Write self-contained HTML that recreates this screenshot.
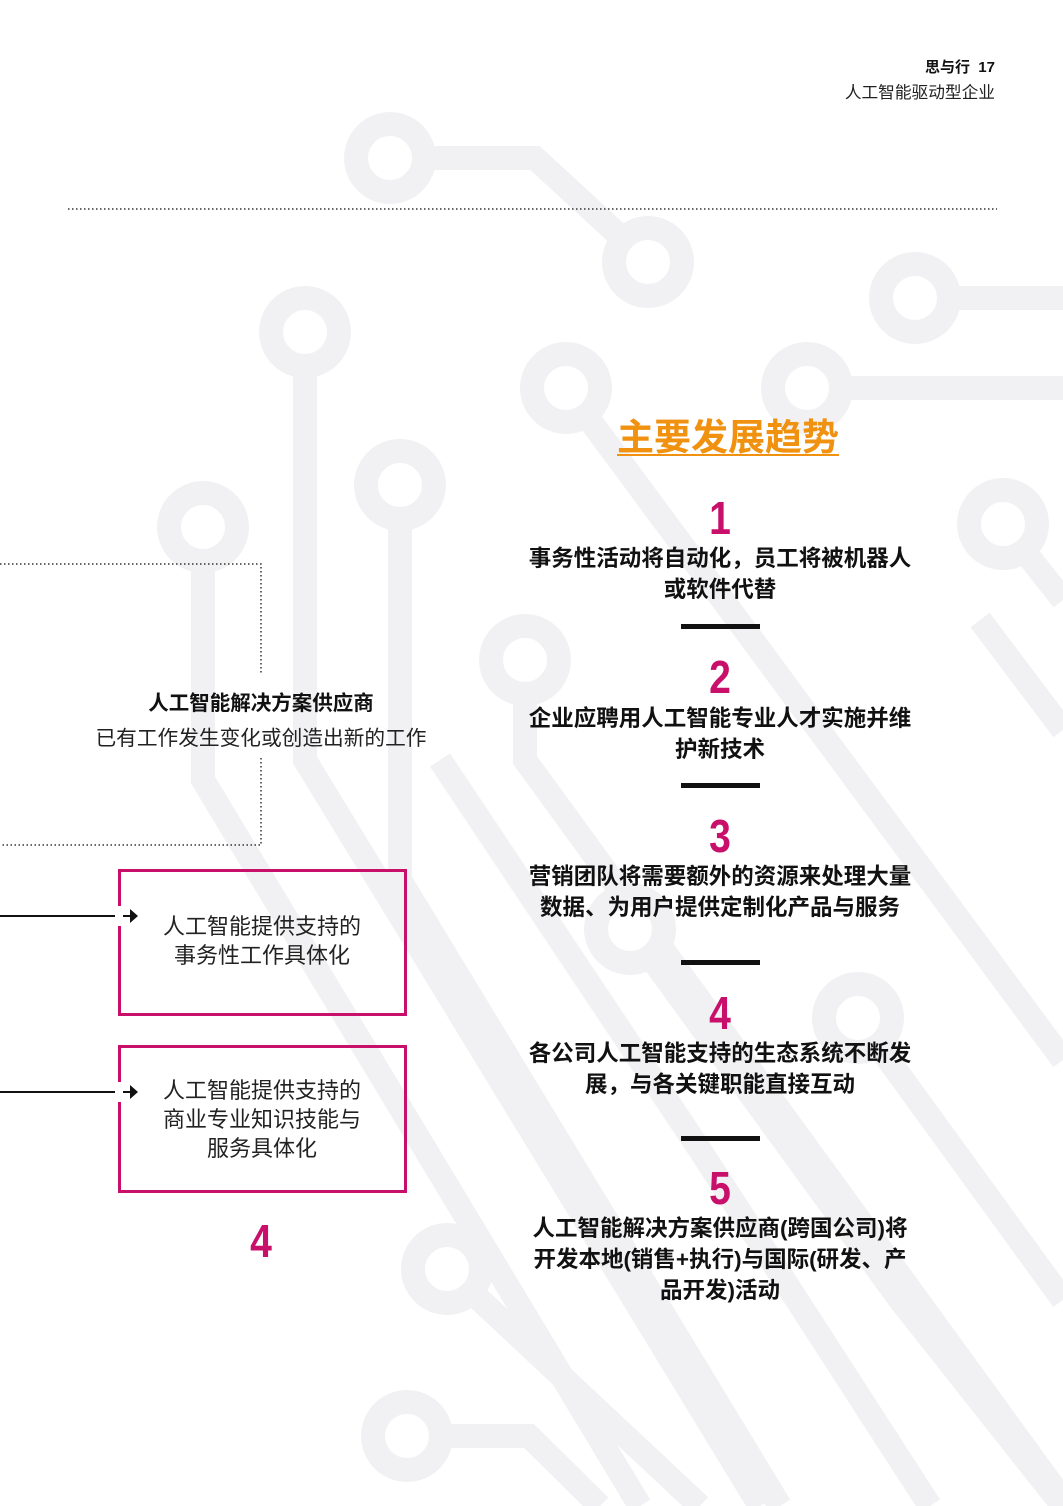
<!DOCTYPE html>
<html><head><meta charset="utf-8"><style>
body{margin:0;width:1063px;height:1506px;position:relative;background:#fff;overflow:hidden;font-family:"Liberation Sans","Noto Sans CJK SC",sans-serif;color:#111}
.a{position:absolute;white-space:nowrap}
.c{transform:translateX(-50%);text-align:center}
.num{color:#c8106b;font-weight:bold;font-size:46px;line-height:46px;transform:translateX(-50%) scaleX(0.85)}
.t{font-weight:bold;font-size:22.5px;line-height:31px}
.bar{position:absolute;left:681px;width:79px;height:5px;background:#111}
.box{position:absolute;border:3px solid #c8106b;box-sizing:border-box;background:transparent}
.bt{font-size:22px;line-height:29px;color:#222}
</style></head><body>
<svg class="a" style="left:0;top:0" width="1063" height="1506">
<g fill="none" stroke="#f1f1f3" stroke-width="24">
<path d="M390 158 H535 L648 262"/>
<path d="M915 298 H1063"/>
<path d="M807 388 H1063"/>
<path d="M305 332 V760 L760 1506"/>
<path d="M203 527 V780 L640 1506"/>
<path d="M400 485 V880 L780 1506"/>
<path d="M566 388 L1063 1060"/>
<path d="M525 660 V760 L1063 1500"/>
<path d="M1003 524 L1063 600"/>
<path d="M858 1018 L1063 1300"/>
<path d="M630 929 L900 1300 L1063 1506"/>
<path d="M447 1269 L700 1506"/>
<path d="M407 1436 H529 L600 1506"/>
<path d="M980 620 L1063 730"/>
<path d="M440 760 L700 1150 L930 1506"/>
</g>
<g fill="#fff" stroke="#f1f1f3" stroke-width="24">
<circle cx="390" cy="158" r="34"/><circle cx="648" cy="262" r="34"/><circle cx="915" cy="298" r="34"/>
<circle cx="305" cy="332" r="34"/><circle cx="566" cy="388" r="34"/><circle cx="807" cy="388" r="34"/>
<circle cx="400" cy="485" r="34"/><circle cx="203" cy="527" r="34"/><circle cx="1003" cy="524" r="34"/>
<circle cx="525" cy="660" r="34"/><circle cx="630" cy="929" r="34"/><circle cx="858" cy="1018" r="34"/>
<circle cx="447" cy="1269" r="34"/><circle cx="407" cy="1436" r="34"/>
</g>
<line x1="68" y1="209" x2="997" y2="209" stroke="#333" stroke-width="1.5" stroke-dasharray="1.5 2.5"/>
<path d="M0 564 H261 V675 M261 758 V845 H0" fill="none" stroke="#333" stroke-width="1.5" stroke-dasharray="1.5 2.5"/>
<line x1="0" y1="916" x2="132" y2="916" stroke="#111" stroke-width="2"/>
<path d="M130 909 L138 916 L130 923Z" fill="#111"/>
<line x1="0" y1="1092" x2="132" y2="1092" stroke="#111" stroke-width="2"/>
<path d="M130 1085 L138 1092 L130 1099Z" fill="#111"/>
</svg>
<div class="a" style="right:68px;top:56px;font-size:15px;font-weight:bold">思与行 &nbsp;17</div>
<div class="a" style="right:68px;top:79px;font-size:16.7px;color:#222">人工智能驱动型企业</div>
<div class="a c" style="left:728px;top:407px;font-size:37px;font-weight:bold;color:#f0920f;text-decoration:underline;text-decoration-thickness:2px;text-underline-offset:4px">主要发展趋势</div>
<div class="a num" style="left:720px;top:495px">1</div>
<div class="a c t" style="left:720px;top:543px">事务性活动将自动化，员工将被机器人<br>或软件代替</div>
<div class="bar" style="top:624px"></div>
<div class="a num" style="left:720px;top:654px">2</div>
<div class="a c t" style="left:720px;top:703px">企业应聘用人工智能专业人才实施并维<br>护新技术</div>
<div class="bar" style="top:783px"></div>
<div class="a num" style="left:720px;top:813px">3</div>
<div class="a c t" style="left:720px;top:861px">营销团队将需要额外的资源来处理大量<br>数据、为用户提供定制化产品与服务</div>
<div class="bar" style="top:960px"></div>
<div class="a num" style="left:720px;top:990px">4</div>
<div class="a c t" style="left:720px;top:1038px">各公司人工智能支持的生态系统不断发<br>展，与各关键职能直接互动</div>
<div class="bar" style="top:1136px"></div>
<div class="a num" style="left:720px;top:1165px">5</div>
<div class="a c t" style="left:720px;top:1213px">人工智能解决方案供应商(跨国公司)将<br>开发本地(销售+执行)与国际(研发、产<br>品开发)活动</div>
<div class="a c" style="left:261px;top:686px;font-size:20.5px;font-weight:bold">人工智能解决方案供应商</div>
<div class="a c" style="left:261px;top:721px;font-size:20.7px;color:#222">已有工作发生变化或创造出新的工作</div>
<div class="box" style="left:118px;top:869px;width:289px;height:147px"></div>
<div class="box" style="left:118px;top:1045px;width:289px;height:148px"></div>
<div class="a" style="left:115px;top:906px;width:8px;height:20px;background:#fff"></div>
<div class="a" style="left:115px;top:1082px;width:8px;height:20px;background:#fff"></div>
<div class="a c bt" style="left:262px;top:912px">人工智能提供支持的<br>事务性工作具体化</div>
<div class="a c bt" style="left:262px;top:1076px">人工智能提供支持的<br>商业专业知识技能与<br>服务具体化</div>
<div class="a num" style="left:261px;top:1218px">4</div>
</body></html>
